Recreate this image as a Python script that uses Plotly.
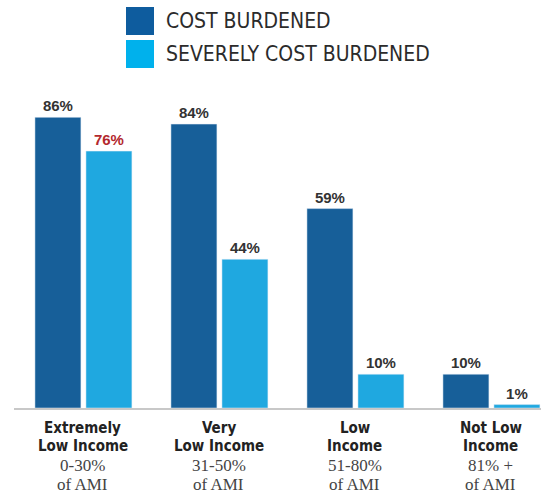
import plotly.graph_objects as go

categories = ["Extremely<br>Low Income", "Very<br>Low Income", "Low<br>Income", "Not Low<br>Income"]
ami_ranges = ["0-30%", "31-50%", "51-80%", "81% +"]
ami_suffix = "of AMI"
series_names = ["COST BURDENED", "SEVERELY COST BURDENED"]
cost_burdened = [86, 84, 59, 10]
severely_burdened = [76, 44, 10, 1]
colors = ["#175f99", "#1fa8e0"]
legend_colors = ["#0e5c9e", "#00b1ec"]

SANS = "Liberation Sans, Arial, sans-serif"
COND = "DejaVu Sans Condensed, Liberation Sans Narrow, Liberation Sans, sans-serif"
SERIF = "Liberation Serif, DejaVu Serif, serif"

x = list(range(len(categories)))

def fmt(v):
    return [f"<b>{a}%</b>" for a in v]

fig = go.Figure()
fig.add_bar(
    x=x, y=cost_burdened, name=series_names[0], marker_color=colors[0],
    width=0.338, offset=-0.353,
    text=fmt(cost_burdened), textposition="outside",
    textfont=dict(family=SANS, size=15, color="#333"),
    cliponaxis=False,
)
sev_colors = ["#b3282e"] + ["#333"] * (len(severely_burdened) - 1)
fig.add_bar(
    x=x, y=severely_burdened, name=series_names[1], marker_color=colors[1],
    width=0.338, offset=0.022,
    text=fmt(severely_burdened), textposition="outside",
    textfont=dict(family=SANS, size=15, color=sev_colors),
    cliponaxis=False,
)

# pixel -> paper coords; plot area spans x 14..541, y 70..408
def px2x(p):
    return (p - 14) / 527

def px2y(p):
    return (408 - p) / 338

# custom legend
leg_y = [(7, 35), (40, 68)]
for i, (name, (t, b)) in enumerate(zip(series_names, leg_y)):
    fig.add_shape(type="rect", xref="paper", yref="paper",
                  x0=px2x(126), x1=px2x(154), y0=px2y(b), y1=px2y(t),
                  fillcolor=legend_colors[i], line_width=0)
    fig.add_annotation(xref="paper", yref="paper", x=px2x(164), y=px2y((t + b) / 2),
                       text=name, showarrow=False, xanchor="left", yanchor="middle",
                       font=dict(family=COND, size=21, color="#2b2b2b"))

# category labels, line by line
line_y = [428, 446, 465, 484]
for xi, c, r in zip(x, categories, ami_ranges):
    parts = c.split("<br>")
    lines = [(f"<b>{parts[0]}</b>", COND, 15, "#222"),
             (f"<b>{parts[1]}</b>", COND, 15, "#222"),
             (r, SERIF, 17, "#444"),
             (ami_suffix, SERIF, 17, "#444")]
    for (txt, fam, sz, col), py in zip(lines, line_y):
        fig.add_annotation(xref="x", yref="paper", x=xi, y=px2y(py), text=txt,
                           showarrow=False, xanchor="center", yanchor="middle",
                           font=dict(family=fam, size=sz, color=col))

fig.update_layout(
    width=541, height=495,
    margin=dict(l=14, r=0, t=70, b=87),
    paper_bgcolor="white", plot_bgcolor="white",
    showlegend=False, barmode="overlay",
    xaxis=dict(tickvals=x, showticklabels=False, automargin=False,
               range=[-0.507, 3.368], showline=True, linecolor="#c8c8c8", linewidth=2,
               showgrid=False, zeroline=False, ticks=""),
    yaxis=dict(range=[0, 100], visible=False, showgrid=False, zeroline=False, automargin=False),
)

fig.write_html("out.html", config={"displayModeBar": False},
               post_script="document.body.style.margin='0';document.body.style.overflow='hidden';")
